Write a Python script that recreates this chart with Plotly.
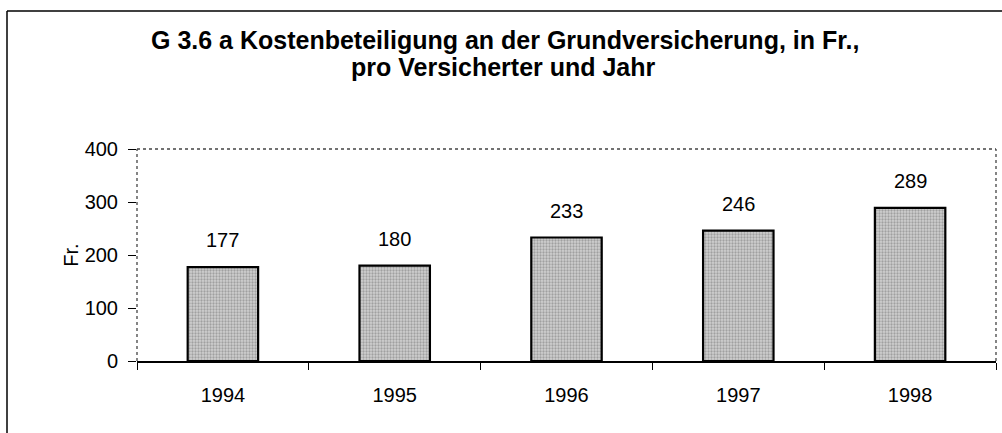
import plotly.graph_objects as go

years = ["1994", "1995", "1996", "1997", "1998"]
values = [177, 180, 233, 246, 289]
y_ticks = [0, 100, 200, 300, 400]
title_line1 = "<b>G 3.6 a Kostenbeteiligung an der Grundversicherung, in Fr.,</b>"
title_line2 = "<b>pro Versicherter und Jahr</b>"
y_title = "Fr."

W, H = 1002, 433
ml, mr, mt, mb = 137, 6, 149, 72
pw, ph = W - ml - mr, H - mt - mb
FONT = "Liberation Sans, Arial, Helvetica"

fig = go.Figure()
fig.add_trace(go.Bar(
    x=years, y=values, width=0.41,
    marker=dict(color="#c0c0c0", line=dict(color="black", width=2.2),
                pattern=dict(shape=".", fgcolor="#707070", bgcolor="#d0d0d0", size=3, solidity=0.45)),
    showlegend=False, hoverinfo="skip",
))

for i, v in enumerate(values):
    fig.add_annotation(x=i, y=v, text=str(v), showarrow=False, yanchor="bottom", yshift=14,
                       font=dict(family=FONT, size=20, color="black"))

# title lines
fig.add_annotation(xref="paper", yref="paper", x=(505 - ml) / pw, y=(H - mb - 40) / ph,
                   text=title_line1, showarrow=False, xanchor="center", yanchor="middle",
                   font=dict(family=FONT, size=25, color="black"))
fig.add_annotation(xref="paper", yref="paper", x=(503 - ml) / pw, y=(H - mb - 67) / ph,
                   text=title_line2, showarrow=False, xanchor="center", yanchor="middle",
                   font=dict(family=FONT, size=25, color="black"))

# dotted plot frame (top, right, left)
for (x0, x1, y0, y1) in [(0, 1, 1, 1), (1, 1, 0, 1), (0, 0, 0, 1)]:
    fig.add_shape(type="line", xref="paper", yref="paper", x0=x0, x1=x1, y0=y0, y1=y1,
                  line=dict(color="#444", width=1.3, dash="dot"))

# outer frame (left and top visible)
x_left = (7 - ml) / pw
y_top = (H - mb - 11) / ph
fig.add_shape(type="line", xref="paper", yref="paper", x0=x_left, x1=x_left, y0=-1, y1=y_top,
              line=dict(color="black", width=1.5))
fig.add_shape(type="line", xref="paper", yref="paper", x0=x_left, x1=1.2, y0=y_top, y1=y_top,
              line=dict(color="black", width=1.5))

fig.update_layout(
    width=W, height=H,
    margin=dict(l=ml, r=mr, t=mt, b=mb, autoexpand=False),
    paper_bgcolor="white", plot_bgcolor="white",
    font=dict(family=FONT, size=20, color="black"),
)
fig.update_xaxes(type="category", range=[-0.5, 4.5], showline=True, linecolor="black", linewidth=1.5,
                 ticks="outside", tickson="boundaries", ticklen=7, tickcolor="black",
                 ticklabelstandoff=15, showgrid=False, zeroline=False, automargin=False,
                 tickfont=dict(size=20))
fig.update_yaxes(range=[0, 400], tickvals=y_ticks, showline=False, ticks="outside", ticklen=8,
                 tickcolor="black", ticklabelstandoff=6, showgrid=False, zeroline=False,
                 automargin=False, tickfont=dict(size=20),
                 title=dict(text=y_title, standoff=0, font=dict(size=20)))

fig.write_html("out.html", config={"displayModeBar": False},
               post_script="document.body.style.margin='0';document.body.style.overflow='hidden';")
